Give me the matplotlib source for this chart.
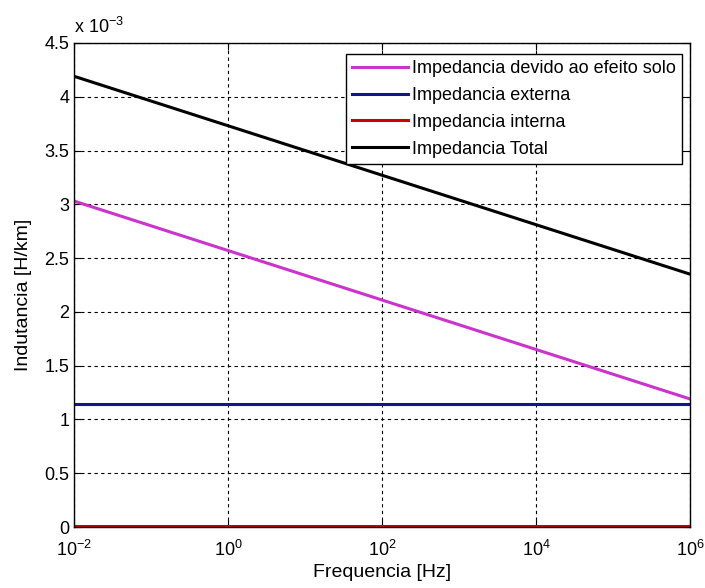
import numpy as np
import matplotlib
matplotlib.use("Agg")
import matplotlib.pyplot as plt
from matplotlib.ticker import FixedLocator, NullLocator

plt.rcParams['font.family'] = ['Liberation Sans', 'DejaVu Sans']
plt.rcParams['mathtext.default'] = 'regular'

# ========================== Data (values in 1e-3 H/km) ==========================
freq = [1e-2, 1e-1, 1e0, 1e1, 1e2, 1e3, 1e4, 1e5, 1e6]
L_solo    = [3.03, 2.80, 2.57, 2.34, 2.11, 1.88, 1.65, 1.42, 1.19]
L_externa = [1.145, 1.145, 1.145, 1.145, 1.145, 1.145, 1.145, 1.145, 1.145]
L_interna = [0.01, 0.01, 0.01, 0.01, 0.01, 0.01, 0.01, 0.01, 0.01]
L_total   = [4.19, 3.96, 3.73, 3.50, 3.27, 3.04, 2.81, 2.58, 2.35]

labels = ["Impedancia devido ao efeito solo", "Impedancia externa",
          "Impedancia interna", "Impedancia Total"]
colors = ["#cc33cc", "#14148c", "#cc0000", "#000000"]
# ================================================================================

fig = plt.figure(figsize=(7.05, 5.88), dpi=100)
ax = fig.add_axes([0.105, 0.1037, 0.874, 0.8233])

for vals, lab, c in zip([L_solo, L_externa, L_interna, L_total], labels, colors):
    ax.plot(freq, np.array(vals), color=c, lw=2.2, label=lab)

ax.set_xscale("log")
ax.set_xlim(1e-2, 1e6)
ax.set_ylim(0, 4.5)
ax.xaxis.set_major_locator(FixedLocator([1e-2, 1e0, 1e2, 1e4, 1e6]))
ax.xaxis.set_minor_locator(NullLocator())
ax.set_xticklabels([r"$10^{-2}$", r"$10^{0}$", r"$10^{2}$", r"$10^{4}$", r"$10^{6}$"])
ax.set_yticks(np.arange(0, 4.51, 0.5))
ax.set_yticklabels(["0", "0.5", "1", "1.5", "2", "2.5", "3", "3.5", "4", "4.5"])

ax.grid(True, color="black", linestyle=(0, (3, 3)), linewidth=0.8)
ax.tick_params(direction="in", top=True, right=True, labelsize=13, length=5, width=0.8)
ax.tick_params(axis="x", pad=9)
for s in ax.spines.values():
    s.set_linewidth(1.0)

ax.set_xlabel("Frequencia [Hz]", fontsize=14, labelpad=3)
ax.set_ylabel("Indutancia [H/km]", fontsize=14)
ax.yaxis.set_label_coords(-0.068, 0.48)
ax.text(0.0, 1.012, r"x 10$^{-3}$", transform=ax.transAxes, fontsize=13,
        ha="left", va="bottom")

leg = ax.legend(loc="upper right", bbox_to_anchor=(0.987, 0.978), fontsize=13,
                frameon=True, fancybox=False, edgecolor="black", framealpha=1,
                handlelength=3.1, handletextpad=0.2, labelspacing=0.55,
                borderpad=0.35, borderaxespad=0)
leg.get_frame().set_linewidth(1.0)

plt.savefig("out.png", dpi=100)
